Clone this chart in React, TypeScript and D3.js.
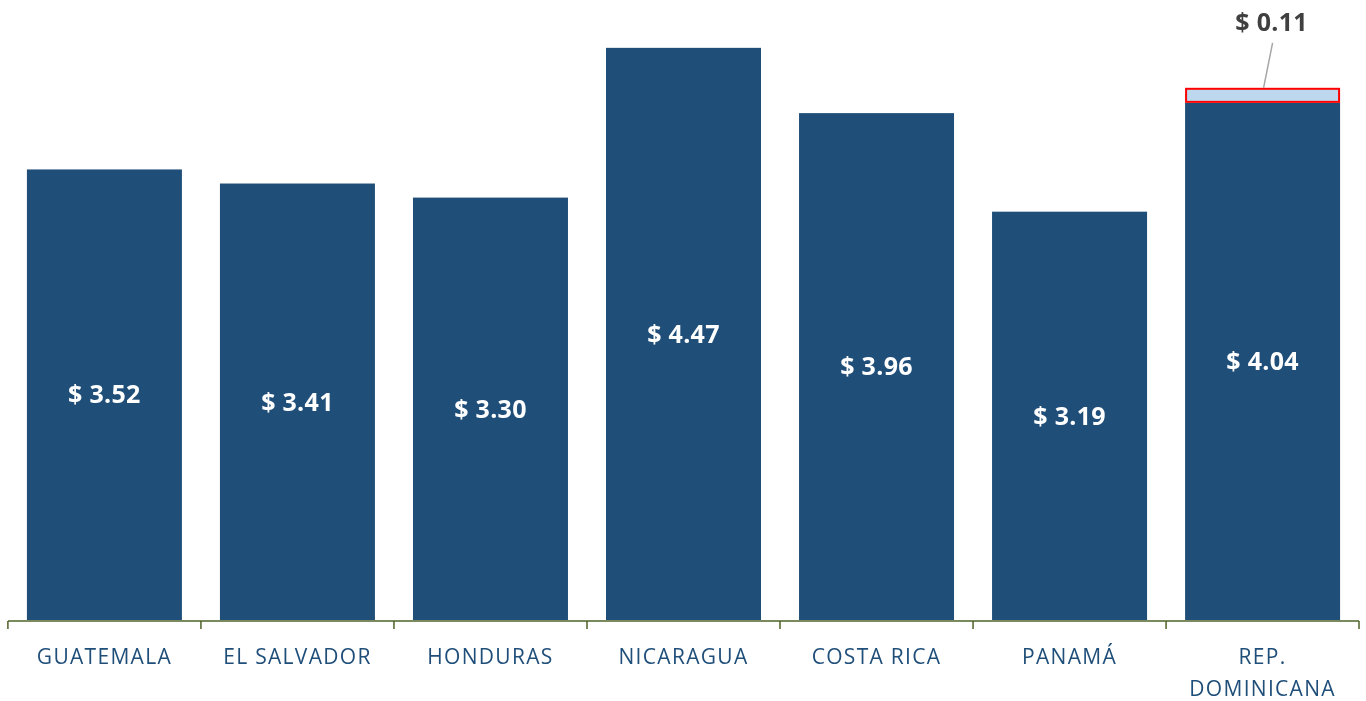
import { useEffect, useRef } from "react";
import * as d3 from "d3";

const countries = ["GUATEMALA", "EL SALVADOR", "HONDURAS", "NICARAGUA", "COSTA RICA", "PANAMÁ", "REP. DOMINICANA"];
const baseValues = [3.52, 3.41, 3.30, 4.47, 3.96, 3.19, 4.04];
const extraValues = [0, 0, 0, 0, 0, 0, 0.11];

export default function App() {
    const svgRef = useRef<SVGSVGElement>(null);

    useEffect(() => {
        const width = 1366, height = 701;
        const margin = { left: 8, right: 7, baseline: 620 };

        const svg = d3.select(svgRef.current)
            .attr("width", width)
            .attr("height", height);
        svg.selectAll("*").remove();

        const x = d3.scaleBand()
            .domain(countries)
            .range([margin.left, width - margin.right])
            .paddingInner(0.197)
            .paddingOuter(0.098);

        // px per unit ~128
        const y = d3.scaleLinear().domain([0, 4.85]).range([margin.baseline, margin.baseline - 4.85 * 128]);

        const g = svg.append("g");

        // base bars
        g.selectAll("rect.base")
            .data(countries)
            .enter().append("rect")
            .attr("class", "base")
            .attr("x", d => x(d)!)
            .attr("width", x.bandwidth())
            .attr("y", (d, i) => y(baseValues[i]))
            .attr("height", (d, i) => y(0) - y(baseValues[i]))
            .attr("fill", "#1F4E79");

        // extra stacked segment
        const extras = countries.map((c, i) => ({ c, i })).filter(d => extraValues[d.i] > 0);
        g.selectAll("rect.extra")
            .data(extras)
            .enter().append("rect")
            .attr("class", "extra")
            .attr("x", d => x(d.c)! + 1)
            .attr("width", x.bandwidth() - 2)
            .attr("y", d => y(baseValues[d.i] + extraValues[d.i]))
            .attr("height", d => y(baseValues[d.i]) - y(baseValues[d.i] + extraValues[d.i]) - 1)
            .attr("fill", "#BDD7EE")
            .attr("stroke", "#FF0000")
            .attr("stroke-width", 2);

        // value labels inside bars
        g.selectAll("text.val")
            .data(countries)
            .enter().append("text")
            .attr("x", d => x(d)! + x.bandwidth() / 2)
            .attr("y", (d, i) => (y(baseValues[i]) + y(0)) / 2)
            .attr("dy", "0.35em")
            .attr("text-anchor", "middle")
            .attr("fill", "#FFFFFF")
            .style("font-family", "'Open Sans', sans-serif")
            .style("font-weight", "bold")
            .style("font-size", "25px")
            .style("letter-spacing", "0.3px")
            .text((d, i) => `$ ${baseValues[i].toFixed(2)}`);

        // annotation for extra
        extras.forEach(d => {
            const cx = x(d.c)! + x.bandwidth() / 2;
            const top = y(baseValues[d.i] + extraValues[d.i]);
            g.append("line")
                .attr("x1", cx + 1).attr("y1", top - 1)
                .attr("x2", cx + 10).attr("y2", top - 46)
                .attr("stroke", "#A6A6A6")
                .attr("stroke-width", 1.5);
            g.append("text")
                .attr("x", cx + 9)
                .attr("y", 31)
                .attr("text-anchor", "middle")
                .attr("fill", "#404040")
                .style("font-family", "'Open Sans', sans-serif")
                .style("font-weight", "bold")
                .style("font-size", "25px")
                .style("letter-spacing", "0.3px")
                .text(`$ ${extraValues[d.i].toFixed(2)}`);
        });

        // axis
        const axisG = svg.append("g");
        axisG.append("line")
            .attr("x1", margin.left).attr("x2", width - margin.right)
            .attr("y1", margin.baseline + 1).attr("y2", margin.baseline + 1)
            .attr("stroke", "#4F6228").attr("stroke-width", 1.5);
        const tickPositions = countries.map(c => x(c)! - x.step() * x.paddingInner() / 2);
        tickPositions.push(width - margin.right);
        axisG.selectAll("line.tick")
            .data(tickPositions)
            .enter().append("line")
            .attr("x1", d => d).attr("x2", d => d)
            .attr("y1", margin.baseline + 1).attr("y2", margin.baseline + 9)
            .attr("stroke", "#4F6228").attr("stroke-width", 1.5);

        // category labels
        axisG.selectAll("text.cat")
            .data(countries)
            .enter().append("text")
            .attr("text-anchor", "middle")
            .attr("fill", "#1F4E79")
            .style("font-family", "'Open Sans', sans-serif")
            .style("font-size", "21px")
            .style("letter-spacing", "1.3px")
            .each(function (d) {
                const cx = x(d)! + x.bandwidth() / 2;
                const parts = d === "REP. DOMINICANA" ? ["REP.", "DOMINICANA"] : [d];
                parts.forEach((p, k) => {
                    d3.select(this).append("tspan")
                        .attr("x", cx)
                        .attr("y", 664 + k * 32)
                        .text(p);
                });
            });
    }, []);

    return (
        <div style={{ position: "fixed", left: 0, top: 0, width: "1366px", height: "701px", overflow: "hidden" }}>
            <svg ref={svgRef} style={{ display: "block" }}></svg>
        </div>
    );
}
